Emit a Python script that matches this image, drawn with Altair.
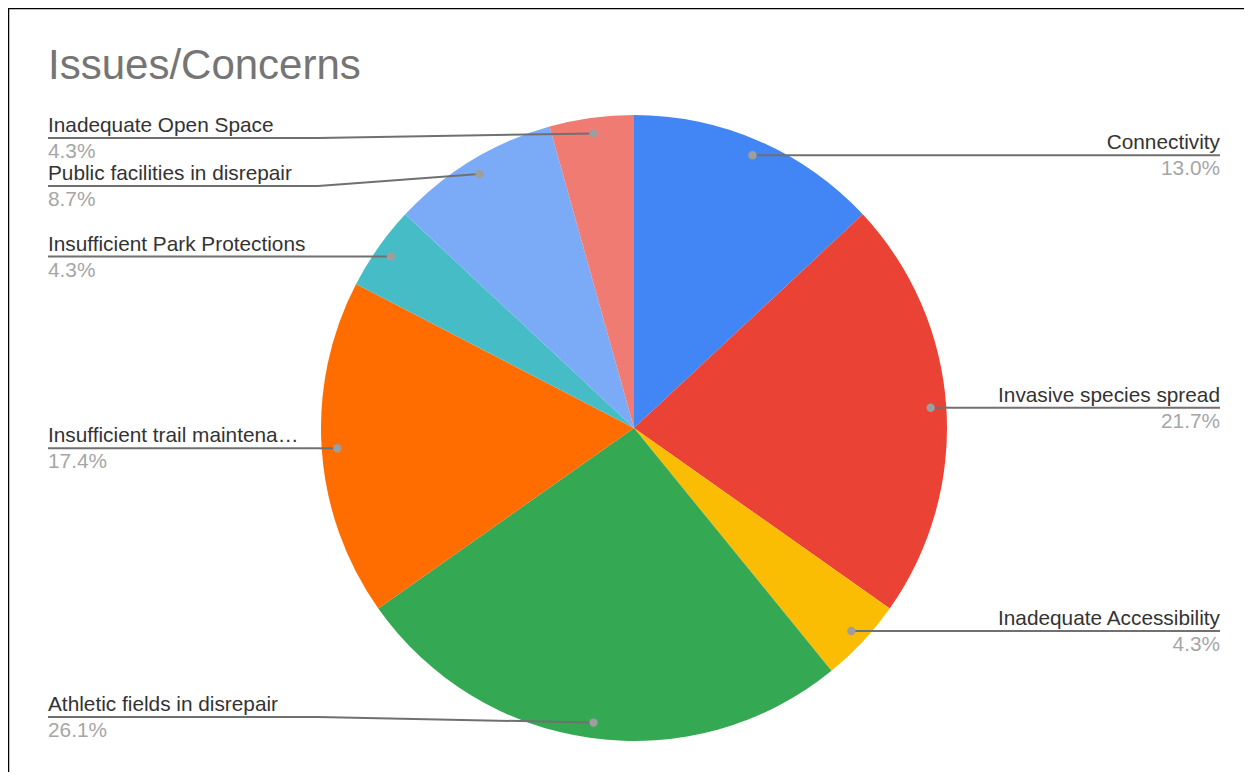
import altair as alt
import pandas as pd

# ---- data ----
categories = [
    "Connectivity",
    "Invasive species spread",
    "Inadequate Accessibility",
    "Athletic fields in disrepair",
    "Insufficient trail maintena…",
    "Insufficient Park Protections",
    "Public facilities in disrepair",
    "Inadequate Open Space",
]
counts = [3, 5, 1, 6, 4, 1, 2, 1]
colors = ["#4285F4", "#EA4335", "#FBBC04", "#34A853",
          "#FF6D01", "#46BDC6", "#7BAAF7", "#F07B72"]

# ---- layout constants ----
W, H = 1236, 764
CX, CY, R = 626, 420, 313
DOT_R = 0.95 * R
LEFT_X, RIGHT_X = 40, 1212
ELBOW = 270          # length of the flat part of each leader line
LABEL_MIN_Y, LABEL_MAX_Y, LABEL_GAP = 130, 709, 48
FONT = "Arial"
LABEL_SIZE = 20.8

df = pd.DataFrame({"category": categories, "count": counts,
                   "order": list(range(len(categories)))})

xs = alt.Scale(domain=[0, W], nice=False, zero=False)
ys = alt.Scale(domain=[0, H], nice=False, zero=False, reverse=True)

pie = alt.Chart(df).mark_arc(outerRadius=R, x=CX, y=CY).encode(
    theta=alt.Theta("count:Q", stack=True),
    order=alt.Order("order:Q"),
    color=alt.Color("category:N", scale=alt.Scale(domain=categories, range=colors), legend=None),
)

base = (
    alt.Chart(df)
    .transform_joinaggregate(total="sum(count)")
    .transform_window(cum="sum(count)", sort=[alt.SortField("order")], frame=[None, 0])
    .transform_calculate(
        pct="format(datum.count / datum.total, '.1%')",
        mid="2 * PI * (datum.cum - datum.count / 2) / datum.total",
    )
    .transform_calculate(
        dot_x=f"{CX} + {DOT_R} * sin(datum.mid)",
        dot_y=f"{CY} - {DOT_R} * cos(datum.mid)",
        side="sin(datum.mid) >= 0 ? 'right' : 'left'",
    )
    .transform_calculate(
        end_x=f"datum.side == 'right' ? {RIGHT_X} : {LEFT_X}",
        elbow_x=f"datum.side == 'right' ? {RIGHT_X - ELBOW} : {LEFT_X + ELBOW}",
        clamp_y=f"clamp(datum.dot_y, {LABEL_MIN_Y}, {LABEL_MAX_Y})",
    )
    .transform_window(prev_y="lag(clamp_y)", groupby=["side"],
                      sort=[alt.SortField("clamp_y")])
    .transform_calculate(
        label_y=f"datum.prev_y == null ? datum.clamp_y : max(datum.clamp_y, datum.prev_y + {LABEL_GAP})",
    )
)

X = alt.X("dot_x:Q", scale=xs, axis=None)
Y = alt.Y("dot_y:Q", scale=ys, axis=None)
XE = alt.X("end_x:Q", scale=xs, axis=None)
XB = alt.X("elbow_x:Q", scale=xs, axis=None)
YL = alt.Y("label_y:Q", scale=ys, axis=None)

LINE = dict(color="#707070", strokeWidth=2)
flat = base.mark_rule(**LINE).encode(x=XE, y=YL, x2="elbow_x:Q", y2="label_y:Q")
slant = base.mark_rule(**LINE).encode(x=XB, y=YL, x2="dot_x:Q", y2="dot_y:Q")
dots = base.mark_circle(size=70, color="#9E9E9E", opacity=1).encode(x=X, y=Y)


def labels(side, align):
    b = base.transform_filter(f"datum.side == '{side}'")
    name = b.mark_text(align=align, baseline="alphabetic", dy=-6, fontSize=LABEL_SIZE,
                       font=FONT, color="#333333").encode(x=XE, y=YL, text="category:N")
    pct = b.mark_text(align=align, baseline="alphabetic", dy=20, fontSize=LABEL_SIZE,
                      font=FONT, color="#A6A6A6").encode(x=XE, y=YL, text="pct:N")
    return [name, pct]


frame_df = pd.DataFrame({"k": [0]})
top_edge = alt.Chart(frame_df).mark_rule(color="black", strokeWidth=2.5).encode(
    x=alt.value(0), x2=alt.value(W), y=alt.value(0))
left_edge = alt.Chart(frame_df).mark_rule(color="black", strokeWidth=2.5).encode(
    x=alt.value(0), y=alt.value(0), y2=alt.value(H))

chart = alt.layer(
    pie, flat, slant, dots, *labels("right", "right"), *labels("left", "left"),
    top_edge, left_edge,
).properties(
    width=W, height=H,
    autosize=alt.AutoSizeParams(type="none"),
    padding=0,
    title=alt.TitleParams(
        "Issues/Concerns", anchor="start", frame="group", offset=0,
        dx=40, dy=114, baseline="alphabetic", fontSize=42, font=FONT,
        fontWeight="normal", color="#757575",
    ),
).configure_view(stroke=None)

chart.save("out.html", embed_options={"renderer": "svg", "actions": False})
